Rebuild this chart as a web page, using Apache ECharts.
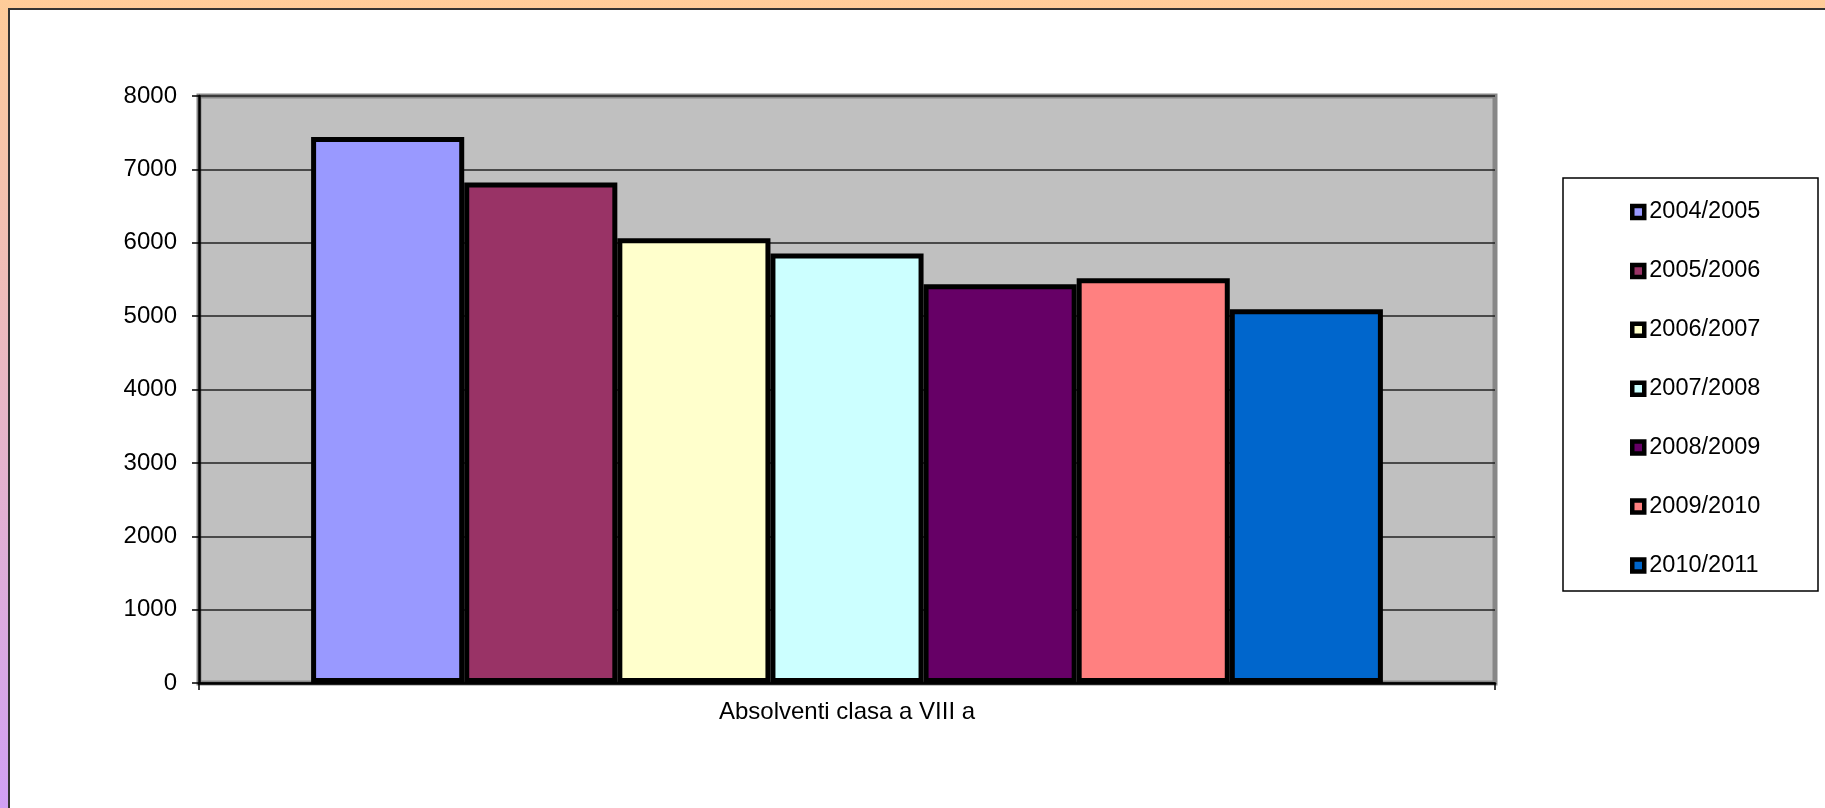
<!DOCTYPE html>
<html>
<head>
<meta charset="utf-8">
<script src="https://cdn.jsdelivr.net/npm/echarts@6/dist/echarts.min.js"></script>
<style>
  html, body { margin: 0; padding: 0; width: 1825px; height: 808px; overflow: hidden; }
  body { background: linear-gradient(to bottom, #FFCC99 0%, #D0A0F4 100%); position: relative; }
  #frame { position: absolute; left: 8px; top: 8px; width: 1830px; height: 810px; background: #fff;
           border-left: 2px solid #333; border-top: 2px solid #333; }
  #chart { position: absolute; left: 0; top: 0; width: 1825px; height: 808px; }
</style>
</head>
<body>
<div id="frame"></div>
<div id="chart"></div>
<script>
const categories = ['Absolventi clasa a VIII a'];
const seriesNames = ['2004/2005', '2005/2006', '2006/2007', '2007/2008', '2008/2009', '2009/2010', '2010/2011'];
const seriesValues = [7440, 6820, 6060, 5855, 5435, 5515, 5095];
const seriesColors = ['#9999FF', '#993366', '#FFFFCC', '#CCFFFF', '#660066', '#FF8080', '#0066CC'];
const yTicks = { min: 0, max: 8000, interval: 1000 };

const FONT = 'Arial, "Liberation Sans", sans-serif';
const chart = echarts.init(document.getElementById('chart'), null, { renderer: 'canvas' });

const series = seriesNames.map((name, i) => ({
  name: name,
  type: 'bar',
  data: [seriesValues[i]],
  barGap: '0%',
  barCategoryGap: '17.3%',
  itemStyle: { color: seriesColors[i], borderColor: '#000', borderWidth: 5 },
  emphasis: { disabled: true }
}));

chart.setOption({
  animation: false,
  backgroundColor: 'transparent',
  graphic: [{
    type: 'rect', z: -1,
    shape: { x: 1563, y: 178, width: 255, height: 413 },
    style: { fill: '#fff', stroke: '#000', lineWidth: 1.5 }
  }],
  grid: {
    left: 199, top: 96, right: 330, bottom: 125,
    show: true, backgroundColor: '#C0C0C0', borderColor: '#878787', borderWidth: 5
  },
  legend: {
    orient: 'vertical',
    left: 1630, top: 200,
    padding: 0,
    itemGap: 34.9,
    itemWidth: 12, itemHeight: 12,
    icon: 'rect',
    itemStyle: { borderColor: '#000', borderWidth: 4.5 },
    textStyle: { fontFamily: FONT, fontSize: 23.5, lineHeight: 22, color: '#000' },
    data: seriesNames
  },
  xAxis: {
    type: 'category',
    data: categories,
    axisLine: { lineStyle: { color: '#000', width: 2.5 } },
    axisTick: { show: true, length: 7, lineStyle: { color: '#000', width: 1.5 } },
    axisLabel: { fontFamily: FONT, fontSize: 24, color: '#000', margin: 17 },
    splitLine: { show: false }
  },
  yAxis: {
    type: 'value',
    min: yTicks.min, max: yTicks.max, interval: yTicks.interval,
    axisLine: { show: true, lineStyle: { color: '#000', width: 2.5 } },
    axisTick: { show: true, length: 7, lineStyle: { color: '#000', width: 1.5 } },
    axisLabel: { fontFamily: FONT, fontSize: 24, color: '#000', margin: 22, formatter: v => String(v) },
    splitLine: { show: true, lineStyle: { color: '#222', width: 1.5 } }
  },
  series: series
});
</script>
</body>
</html>
